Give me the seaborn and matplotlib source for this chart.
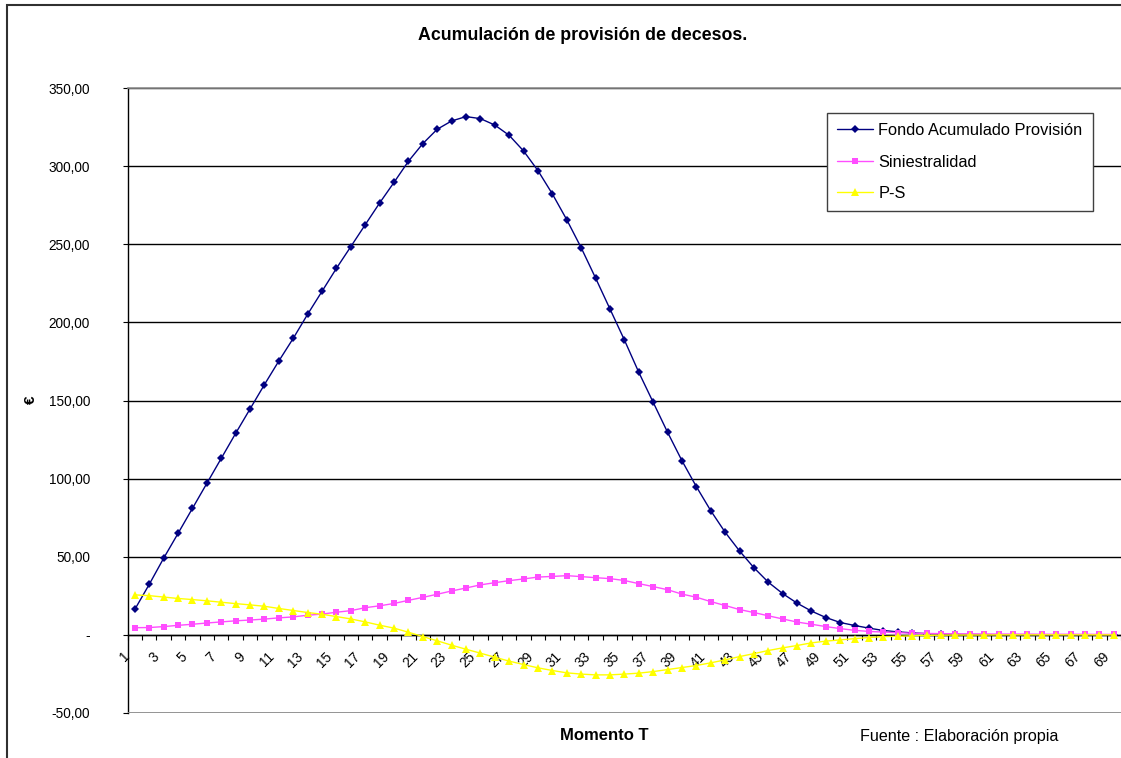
import numpy as np
import pandas as pd
import matplotlib
matplotlib.use("Agg")
import matplotlib.pyplot as plt
import matplotlib.transforms as mtransforms
from matplotlib.patches import Rectangle
import seaborn as sns

# ---------------- data ----------------
periodos = list(range(1, 70))

fondo = [16.4, 32.4, 49.1, 65.0, 81.0, 97.0, 113.0, 129.0, 144.6, 160.2,
         175.3, 189.8, 205.2, 219.9, 234.6, 248.5, 262.5, 276.4, 289.6, 303.1,
         314.4, 323.6, 328.9, 331.7, 330.4, 326.3, 319.7, 309.7, 297.1, 282.2,
         265.7, 247.8, 228.4, 208.6, 188.8, 168.1, 148.9, 129.7, 111.5, 94.9,
         79.5, 65.7, 53.7, 43.0, 33.7, 26.4, 20.3, 15.2, 11.1, 7.9,
         6.0, 4.3, 2.8, 1.9, 1.3, 0.8, 0.5, 0.3, 0.2, 0.1,
         0.1, 0.0, 0.0, 0.0, 0.0, 0.0, 0.0, 0.0, 0.0]

siniestralidad = [4.6, 4.7, 5.3, 6.1, 6.8, 7.6, 8.3, 9.0, 9.5, 10.1,
                  10.9, 11.5, 12.6, 13.3, 14.5, 15.5, 17.4, 18.6, 20.1, 22.1,
                  24.0, 26.0, 28.1, 30.0, 32.0, 33.4, 34.7, 35.8, 37.0, 37.4,
                  37.9, 37.3, 36.6, 36.0, 34.8, 32.8, 30.9, 28.9, 26.1, 24.1,
                  21.3, 18.8, 16.2, 14.3, 12.2, 10.2, 8.2, 6.8, 5.3, 4.0,
                  2.9, 2.2, 1.8, 1.4, 1.1, 0.9, 0.8, 0.7, 0.6, 0.6,
                  0.5, 0.5, 0.5, 0.4, 0.4, 0.4, 0.4, 0.3, 0.3]

p_s = [25.6, 25.1, 24.2, 23.3, 22.6, 21.8, 20.9, 20.0, 19.2, 18.3,
       16.9, 15.6, 14.3, 13.2, 11.7, 10.2, 8.3, 6.2, 4.3, 1.7,
       -1.1, -3.8, -6.6, -9.2, -11.7, -14.3, -16.8, -19.0, -21.1, -22.8,
       -24.3, -25.1, -25.6, -25.6, -25.1, -24.5, -23.5, -22.2, -20.9, -19.6,
       -17.9, -16.0, -13.9, -12.0, -10.0, -8.3, -6.8, -5.1, -4.0, -3.2,
       -2.4, -1.7, -1.1, -0.9, -0.6, -0.3, -0.2, -0.1, -0.1, -0.1,
       0.0, 0.0, 0.0, 0.0, 0.0, 0.0, 0.0, 0.0, 0.0]

series_names = ["Fondo Acumulado Provisión", "Siniestralidad", "P-S"]
y_ticks = [-50, 0, 50, 100, 150, 200, 250, 300, 350]
y_tick_labels = ["-50,00", "-", "50,00", "100,00", "150,00", "200,00",
                 "250,00", "300,00", "350,00"]
x_label_ticks = periodos[::2]
x_tick_labels = [str(p) for p in x_label_ticks]

title = "Acumulación de provisión de decesos."
x_title = "Momento T"
y_title = "€"
source = "Fuente : Elaboración propia"

# ---------------- style ----------------
sns.set_theme(style="white")
plt.rcParams["font.family"] = ["Liberation Sans", "DejaVu Sans"]

W, H = 1121, 758
fig = plt.figure(figsize=(W / 100, H / 100), dpi=100)
fig.patch.set_facecolor("white")

# plot area in pixels: left 127.7, top 88, bottom 713, right = image edge
left_px, top_px, bot_px = 127.7, 88.0, 713.0
ax = fig.add_axes([left_px / W, (H - bot_px) / H, (W - left_px) / W,
                   (bot_px - top_px) / H])
ax.set_facecolor("white")

df = pd.DataFrame({
    "Momento": periodos * 3,
    "Valor": fondo + siniestralidad + p_s,
    "Serie": [series_names[0]] * len(periodos) + [series_names[1]] * len(periodos)
             + [series_names[2]] * len(periodos),
})

styles = {
    series_names[0]: dict(color="#000080", marker="D", ms=3.9, lw=1.0),
    series_names[1]: dict(color="#FF4DFF", marker="s", ms=4.7, lw=1.0),
    series_names[2]: dict(color="#FFFF00", marker="^", ms=5.8, lw=1.0),
}
for name in series_names:
    st = styles[name]
    sub = df[df["Serie"] == name]
    sns.lineplot(data=sub, x="Momento", y="Valor", ax=ax, label=name,
                 color=st["color"], marker=st["marker"], markersize=st["ms"],
                 markeredgewidth=0, markerfacecolor=st["color"],
                 linewidth=st["lw"], estimator=None, sort=False, zorder=3)

# axes limits: category positions, 14.53 px per category
px_per_cat = 14.53
ax.set_xlim(0.5, 0.5 + (W - left_px) / px_per_cat)
ax.set_ylim(-50, 350)

# y axis
ax.set_yticks(y_ticks)
ax.set_yticklabels(y_tick_labels)
ax.tick_params(axis="y", which="major", direction="out", length=3.6, width=0.8,
               color="black", pad=23.5, labelsize=9.8, labelcolor="black",
               left=True)

# x axis at zero, labels on odd categories, ticks between categories
ax.spines["bottom"].set_position(("data", 0))
ax.spines["bottom"].set_color("black")
ax.spines["bottom"].set_linewidth(1.0)
ax.spines["left"].set_color("black")
ax.spines["left"].set_linewidth(1.0)
ax.spines["top"].set_color("#8c8c8c")
ax.spines["top"].set_linewidth(1.2)
ax.spines["right"].set_visible(False)

ax.set_xticks(x_label_ticks)
ax.set_xticklabels(x_tick_labels, rotation=45, ha="right", va="center",
                   rotation_mode="anchor")
ax.set_xticks([p - 0.5 for p in periodos] + [periodos[-1] + 0.5], minor=True)
ax.tick_params(axis="x", which="major", length=0, pad=14, labelsize=9.8,
               labelcolor="black", bottom=True)
ax.tick_params(axis="x", which="minor", direction="out", length=3.6, width=0.8,
               color="black", bottom=True)
offset = mtransforms.ScaledTranslation(-7 / 100, 0, fig.dpi_scale_trans)
for lab in ax.get_xticklabels():
    lab.set_transform(lab.get_transform() + offset)

# gridlines (black) and gray plot-area bottom edge
ax.yaxis.grid(True, color="black", linewidth=1.0)
ax.xaxis.grid(False)
ax.set_axisbelow(True)
ax.axhline(y_ticks[0], color="#8c8c8c", linewidth=1.2, zorder=2.6)

# axis titles
ax.set_xlabel(x_title, fontsize=12, fontweight="bold", color="black")
ax.xaxis.set_label_coords((604 - left_px) / (W - left_px),
                          (bot_px - 735) / (bot_px - top_px))
ax.xaxis.label.set_va("center")
ax.set_ylabel(y_title, fontsize=11, fontweight="bold", color="black",
              rotation=90)
ax.yaxis.set_label_coords((31 - left_px) / (W - left_px),
                          (bot_px - 400) / (bot_px - top_px))
ax.yaxis.label.set_va("center")

# legend
leg = ax.legend(loc="upper left",
                bbox_to_anchor=(827 / W, 1 - 113 / H),
                bbox_transform=fig.transFigure, frameon=True, fancybox=False,
                shadow=False, framealpha=1, edgecolor="#404040",
                fontsize=11.8, handlelength=2.2, handletextpad=0.3,
                borderpad=0.62, labelspacing=1.0, borderaxespad=0)
leg.get_frame().set_linewidth(1.0)
for t in leg.get_texts():
    t.set_color("black")

# title and source
fig.text(583 / W, 1 - 36 / H, title, ha="center", va="center",
         fontsize=12.8, fontweight="bold", color="black")
fig.text(860 / W, 1 - 737 / H, source, ha="left", va="center",
         fontsize=11.6, color="black")

# outer chart frame (cropped on right and bottom)
fig.add_artist(Rectangle((7 / W, -0.2), 1.5, 1 - 5 / H + 0.2,
                         transform=fig.transFigure, fill=False,
                         edgecolor="#303030", linewidth=1.5))

fig.savefig("out.png", dpi=100, facecolor="white")
